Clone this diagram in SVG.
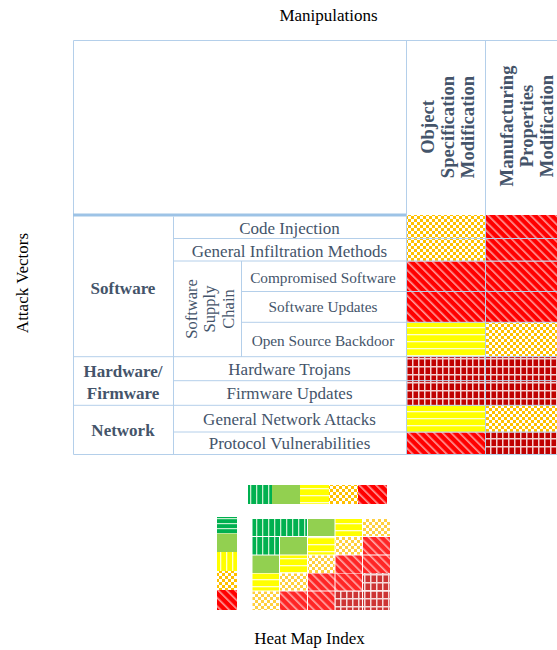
<svg xmlns="http://www.w3.org/2000/svg" width="557" height="650" viewBox="0 0 557 650">
<style>
.t{font-family:"Liberation Serif","Times New Roman",serif;fill:#44546A;text-anchor:middle}
.r{font-size:17px}
.s{font-size:15.3px}
.b{font-size:17px;font-weight:bold}
.h{font-size:18.6px;font-weight:bold}
.ttl{font-family:"Liberation Serif","Times New Roman",serif;font-size:17px;fill:#000;text-anchor:middle}
.g{stroke:#B4CFEA;stroke-width:1;fill:none}
</style>
<defs>
<pattern id="pOr" width="6" height="6" patternUnits="userSpaceOnUse">
<rect width="6" height="6" fill="#FFC000"/>
<rect x="0" y="0" width="3" height="3" fill="#FFFFFF"/>
<rect x="3" y="3" width="3" height="3" fill="#FFFFFF"/>
</pattern>
<pattern id="pRd" width="6" height="6" patternUnits="userSpaceOnUse" patternTransform="rotate(-45)">
<rect width="6" height="6" fill="#FF0000"/>
<rect x="0" y="0" width="1.6" height="6" fill="#FF9A9A"/>
</pattern>
<pattern id="pPl" width="6" height="8" patternUnits="userSpaceOnUse">
<rect width="6" height="8" fill="#C00000"/>
<rect x="4" y="0" width="1.5" height="8" fill="#F4D0D0"/>
<rect x="0" y="6" width="6" height="1.5" fill="#F4D0D0"/>
</pattern>
<pattern id="pYh" width="10" height="7" patternUnits="userSpaceOnUse">
<rect width="10" height="7" fill="#FFFF00"/>
<rect x="0" y="5" width="10" height="1.3" fill="#FFFFD0"/>
</pattern>
<pattern id="pYv" width="6" height="10" patternUnits="userSpaceOnUse">
<rect width="6" height="10" fill="#FFFF00"/>
<rect x="4" y="0" width="1.3" height="10" fill="#FFFFD0"/>
</pattern>
<pattern id="pGv" width="6" height="10" patternUnits="userSpaceOnUse">
<rect width="6" height="10" fill="#00B050"/>
<rect x="4" y="0" width="1.3" height="10" fill="#C6EFCE"/>
</pattern>
<pattern id="pGh" width="10" height="5" patternUnits="userSpaceOnUse">
<rect width="10" height="5" fill="#00B050"/>
<rect x="0" y="3" width="10" height="1.2" fill="#C6EFCE"/>
</pattern>
</defs>
<rect width="557" height="650" fill="#FFFFFF"/>

<g id="titles">
<text class="ttl" x="328.5" y="20.5">Manipulations</text>
<text class="ttl" transform="translate(28,283) rotate(-90)" x="0" y="0">Attack Vectors</text>
<text class="ttl" x="309.5" y="644">Heat Map Index</text>
</g>

<g id="heat-cells">
<rect x="407" y="215" width="78" height="23" fill="url(#pOr)"/>
<rect x="486" y="215" width="71" height="23" fill="url(#pRd)"/>
<rect x="407" y="238.5" width="78" height="22.5" fill="url(#pOr)"/>
<rect x="486" y="238.5" width="71" height="22.5" fill="url(#pRd)"/>
<rect x="407" y="261.5" width="78" height="29.5" fill="url(#pRd)"/>
<rect x="486" y="261.5" width="71" height="29.5" fill="url(#pRd)"/>
<rect x="407" y="291.5" width="78" height="30.5" fill="url(#pRd)"/>
<rect x="486" y="291.5" width="71" height="30.5" fill="url(#pRd)"/>
<rect x="407" y="322.5" width="78" height="34" fill="url(#pYh)"/>
<rect x="486" y="322.5" width="71" height="34" fill="url(#pOr)"/>
<rect x="407" y="357" width="78" height="23.5" fill="url(#pPl)"/>
<rect x="486" y="357" width="71" height="23.5" fill="url(#pPl)"/>
<rect x="407" y="381" width="78" height="24" fill="url(#pPl)"/>
<rect x="486" y="381" width="71" height="24" fill="url(#pPl)"/>
<rect x="407" y="405.5" width="78" height="26.5" fill="url(#pYh)"/>
<rect x="486" y="405.5" width="71" height="26.5" fill="url(#pOr)"/>
<rect x="407" y="432.5" width="78" height="21.5" fill="url(#pRd)"/>
<rect x="486" y="432.5" width="71" height="21.5" fill="url(#pPl)"/>
</g>

<g id="grid">
<line class="g" x1="73.5" y1="40.5" x2="557" y2="40.5"/>
<line class="g" x1="73.5" y1="40.5" x2="73.5" y2="454.5"/>
<line class="g" x1="406.5" y1="40.5" x2="406.5" y2="454.5"/>
<line class="g" x1="485.5" y1="40.5" x2="485.5" y2="454.5"/>
<line x1="73" y1="215" x2="406" y2="215" stroke="#9DC3E6" stroke-width="3"/>
<line class="g" x1="173.5" y1="216.5" x2="173.5" y2="454.5"/>
<line class="g" x1="241.5" y1="261" x2="241.5" y2="357"/>
<line class="g" x1="173.5" y1="238.5" x2="557" y2="238.5"/>
<line class="g" x1="173.5" y1="261" x2="557" y2="261"/>
<line class="g" x1="241.5" y1="291.5" x2="557" y2="291.5"/>
<line class="g" x1="241.5" y1="322.3" x2="557" y2="322.3"/>
<line class="g" x1="73.5" y1="356.7" x2="557" y2="356.7"/>
<line class="g" x1="173.5" y1="380.7" x2="557" y2="380.7"/>
<line class="g" x1="73.5" y1="405.3" x2="557" y2="405.3"/>
<line class="g" x1="173.5" y1="432" x2="557" y2="432"/>
<line class="g" x1="73.5" y1="454.5" x2="557" y2="454.5"/>
</g>

<g id="col-object-specification">
<text class="t h" transform="translate(433.5,127) rotate(-90)">Object</text>
<text class="t h" transform="translate(453.5,127) rotate(-90)">Specification</text>
<text class="t h" transform="translate(473.5,127) rotate(-90)">Modification</text>
</g>
<g id="col-manufacturing-properties">
<text class="t h" transform="translate(512.5,126) rotate(-90)">Manufacturing</text>
<text class="t h" transform="translate(532.5,126) rotate(-90)">Properties</text>
<text class="t h" transform="translate(552.5,126) rotate(-90)">Modification</text>
</g>

<g id="group-software">
<text class="t b" x="123" y="294">Software</text>
</g>
<g id="group-software-supply-chain">
<text class="t r" font-size="16.5" transform="translate(196.5,309) rotate(-90)" style="font-size:16.5px">Software</text>
<text class="t r" transform="translate(215,309) rotate(-90)" style="font-size:16.5px">Supply</text>
<text class="t r" transform="translate(233.5,309) rotate(-90)" style="font-size:16.5px">Chain</text>
</g>
<g id="group-hardware">
<text class="t b" x="123" y="376.5">Hardware/</text>
<text class="t b" x="123" y="399.3">Firmware</text>
</g>
<g id="group-network">
<text class="t b" x="123" y="436">Network</text>
</g>

<g id="row-code-injection"><text class="t r" x="289.5" y="234">Code Injection</text></g>
<g id="row-general-infiltration"><text class="t r" x="289.5" y="256.7">General Infiltration Methods</text></g>
<g id="row-compromised-software"><text class="t s" x="323" y="283.3">Compromised Software</text></g>
<g id="row-software-updates"><text class="t s" x="323" y="312.3">Software Updates</text></g>
<g id="row-open-source-backdoor"><text class="t s" x="323" y="346">Open Source Backdoor</text></g>
<g id="row-hardware-trojans"><text class="t r" x="289.5" y="375">Hardware Trojans</text></g>
<g id="row-firmware-updates"><text class="t r" x="289.5" y="399.3">Firmware Updates</text></g>
<g id="row-general-network"><text class="t r" x="289.5" y="424.7">General Network Attacks</text></g>
<g id="row-protocol-vulnerabilities"><text class="t r" x="289.5" y="449.3">Protocol Vulnerabilities</text></g>

<g id="legend-top">
<rect x="248" y="485" width="24" height="19" fill="url(#pGv)"/>
<rect x="272" y="485" width="28" height="19" fill="#92D050"/>
<rect x="300" y="485" width="29" height="19" fill="url(#pYh)"/>
<rect x="329" y="485" width="29" height="19" fill="url(#pOr)"/>
<rect x="358" y="485" width="29" height="19" fill="url(#pRd)"/>
</g>
<g id="legend-left">
<rect x="217" y="517" width="20" height="16.5" fill="url(#pGh)"/>
<rect x="217" y="533.5" width="20" height="18.5" fill="#92D050"/>
<rect x="217" y="552" width="20" height="19" fill="url(#pYv)"/>
<rect x="217" y="571" width="20" height="19" fill="url(#pOr)"/>
<rect x="217" y="590" width="20" height="20" fill="url(#pRd)"/>
</g>
<g id="legend-grid">
<rect x="252.5" y="519" width="54.5" height="17" fill="url(#pGv)"/>
<rect x="308" y="519" width="26.5" height="17" fill="#92D050"/>
<rect x="335.5" y="519" width="26.5" height="17" fill="url(#pYh)"/>
<rect x="363" y="519" width="27" height="17" fill="url(#pOr)" opacity="0.75"/>

<rect x="252.5" y="537" width="26.5" height="17.5" fill="url(#pGv)"/>
<rect x="280" y="537" width="27" height="17.5" fill="#92D050"/>
<rect x="308" y="537" width="26.5" height="17.5" fill="url(#pYh)"/>
<rect x="335.5" y="537" width="26.5" height="17.5" fill="url(#pOr)" opacity="0.75"/>
<rect x="363" y="537" width="27" height="17.5" fill="url(#pRd)" opacity="0.85"/>

<rect x="252.5" y="555.5" width="26.5" height="17.5" fill="#92D050"/>
<rect x="280" y="555.5" width="27" height="17.5" fill="url(#pYh)"/>
<rect x="308" y="555.5" width="26.5" height="17.5" fill="url(#pOr)" opacity="0.75"/>
<rect x="335.5" y="555.5" width="26.5" height="17.5" fill="url(#pRd)" opacity="0.85"/>
<rect x="363" y="555.5" width="27" height="17.5" fill="url(#pRd)" opacity="0.85"/>

<rect x="252.5" y="573.5" width="26.5" height="17" fill="url(#pYh)"/>
<rect x="280" y="573.5" width="27" height="17" fill="url(#pOr)" opacity="0.75"/>
<rect x="308" y="573.5" width="26.5" height="17" fill="url(#pRd)" opacity="0.85"/>
<rect x="335.5" y="573.5" width="26.5" height="17" fill="url(#pRd)" opacity="0.85"/>
<rect x="363" y="573.5" width="27" height="17" fill="url(#pPl)" opacity="0.8"/>

<rect x="252.5" y="591.5" width="26.5" height="18.5" fill="url(#pOr)" opacity="0.75"/>
<rect x="280" y="591.5" width="27" height="18.5" fill="url(#pRd)" opacity="0.85"/>
<rect x="308" y="591.5" width="26.5" height="18.5" fill="url(#pRd)" opacity="0.85"/>
<rect x="335.5" y="591.5" width="26.5" height="18.5" fill="url(#pPl)" opacity="0.8"/>
<rect x="363" y="591.5" width="27" height="18.5" fill="url(#pPl)" opacity="0.8"/>
</g>

<g id="connectors"></g>
</svg>
